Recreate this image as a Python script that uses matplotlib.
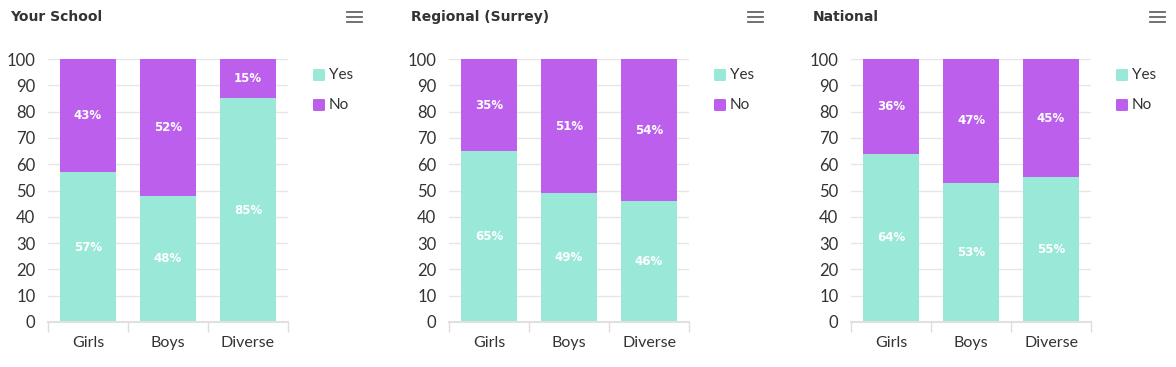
import matplotlib.pyplot as plt
import matplotlib.lines as mlines
from matplotlib.patches import FancyBboxPatch

categories = ['Girls', 'Boys', 'Diverse']
titles = ['Your School', 'Regional (Surrey)', 'National']
yes_values = [[57, 48, 85], [65, 49, 46], [64, 53, 55]]
no_values = [[43, 52, 15], [35, 51, 54], [36, 47, 45]]
yticks = list(range(0, 101, 10))

yes_color = '#99e8d8'
no_color = '#bd5fed'
text_color = '#333333'

W, H = 1176, 367
fig = plt.figure(figsize=(W / 100, H / 100), dpi=100)
plt.rcParams['font.family'] = ['Lato', 'DejaVu Sans']

lefts = [48, 449, 851]
for k in range(3):
    x0 = lefts[k]
    ax = fig.add_axes([x0 / W, (H - 322) / H, 240 / W, 263 / H])
    yes = yes_values[k]
    no = no_values[k]
    xs = range(len(categories))
    ax.bar(xs, yes, width=0.7, color=yes_color, linewidth=0, zorder=3)
    ax.bar(xs, no, width=0.7, bottom=yes, color=no_color, linewidth=0, zorder=3)
    for i in xs:
        ax.text(i, yes[i] / 2, f'{yes[i]}%', ha='center', va='center', color='white',
                fontsize=8.5, fontweight='bold', family='DejaVu Sans', zorder=4)
        ax.text(i, yes[i] + no[i] / 2, f'{no[i]}%', ha='center', va='center', color='white',
                fontsize=8.5, fontweight='bold', family='DejaVu Sans', zorder=4)
    ax.set_xlim(-0.5, 2.5)
    ax.set_ylim(0, 100)
    ax.set_yticks(yticks)
    ax.set_yticklabels([str(t) for t in yticks], fontsize=12, color=text_color)
    ax.set_xticks(list(xs))
    ax.set_xticklabels(categories, fontsize=11.5, color=text_color)
    ax.tick_params(axis='y', length=0, pad=9)
    ax.tick_params(axis='x', length=0, pad=10)
    ax.set_xticks([-0.5, 0.5, 1.5, 2.5], minor=True)
    ax.tick_params(axis='x', which='minor', length=7, color='#dddddd', width=1)
    ax.grid(axis='y', color='#e6e6e6', linewidth=1, zorder=0)
    for s in ['top', 'right', 'left']:
        ax.spines[s].set_visible(False)
    ax.spines['bottom'].set_color('#e0e0e0')
    ax.spines['bottom'].set_linewidth(1.5)
    ax.spines['bottom'].set_zorder(5)

    # title
    fig.text((x0 - 38) / W, 1 - 17 / H, titles[k], fontsize=10, fontweight='heavy',
             color=text_color, family='DejaVu Sans', va='center', ha='left')

    # menu icon
    mx = x0 + 299
    for dy in [12, 17, 22]:
        fig.add_artist(mlines.Line2D([mx / W, (mx + 15) / W], [1 - dy / H, 1 - dy / H],
                                     color='#666666', linewidth=1.3))

    # legend
    lx = x0 + 265
    for j, (lab, col) in enumerate([('Yes', yes_color), ('No', no_color)]):
        cy = 75 + 30 * j
        fig.add_artist(FancyBboxPatch((lx / W, 1 - (cy + 6) / H), 12 / W, 12 / H,
                                      boxstyle='round,pad=0,rounding_size=0.002',
                                      transform=fig.transFigure, facecolor=col, edgecolor='none'))
        fig.text((lx + 16) / W, 1 - cy / H, lab, fontsize=11, color=text_color,
                 va='center', ha='left')

fig.savefig('out.png', dpi=100)
